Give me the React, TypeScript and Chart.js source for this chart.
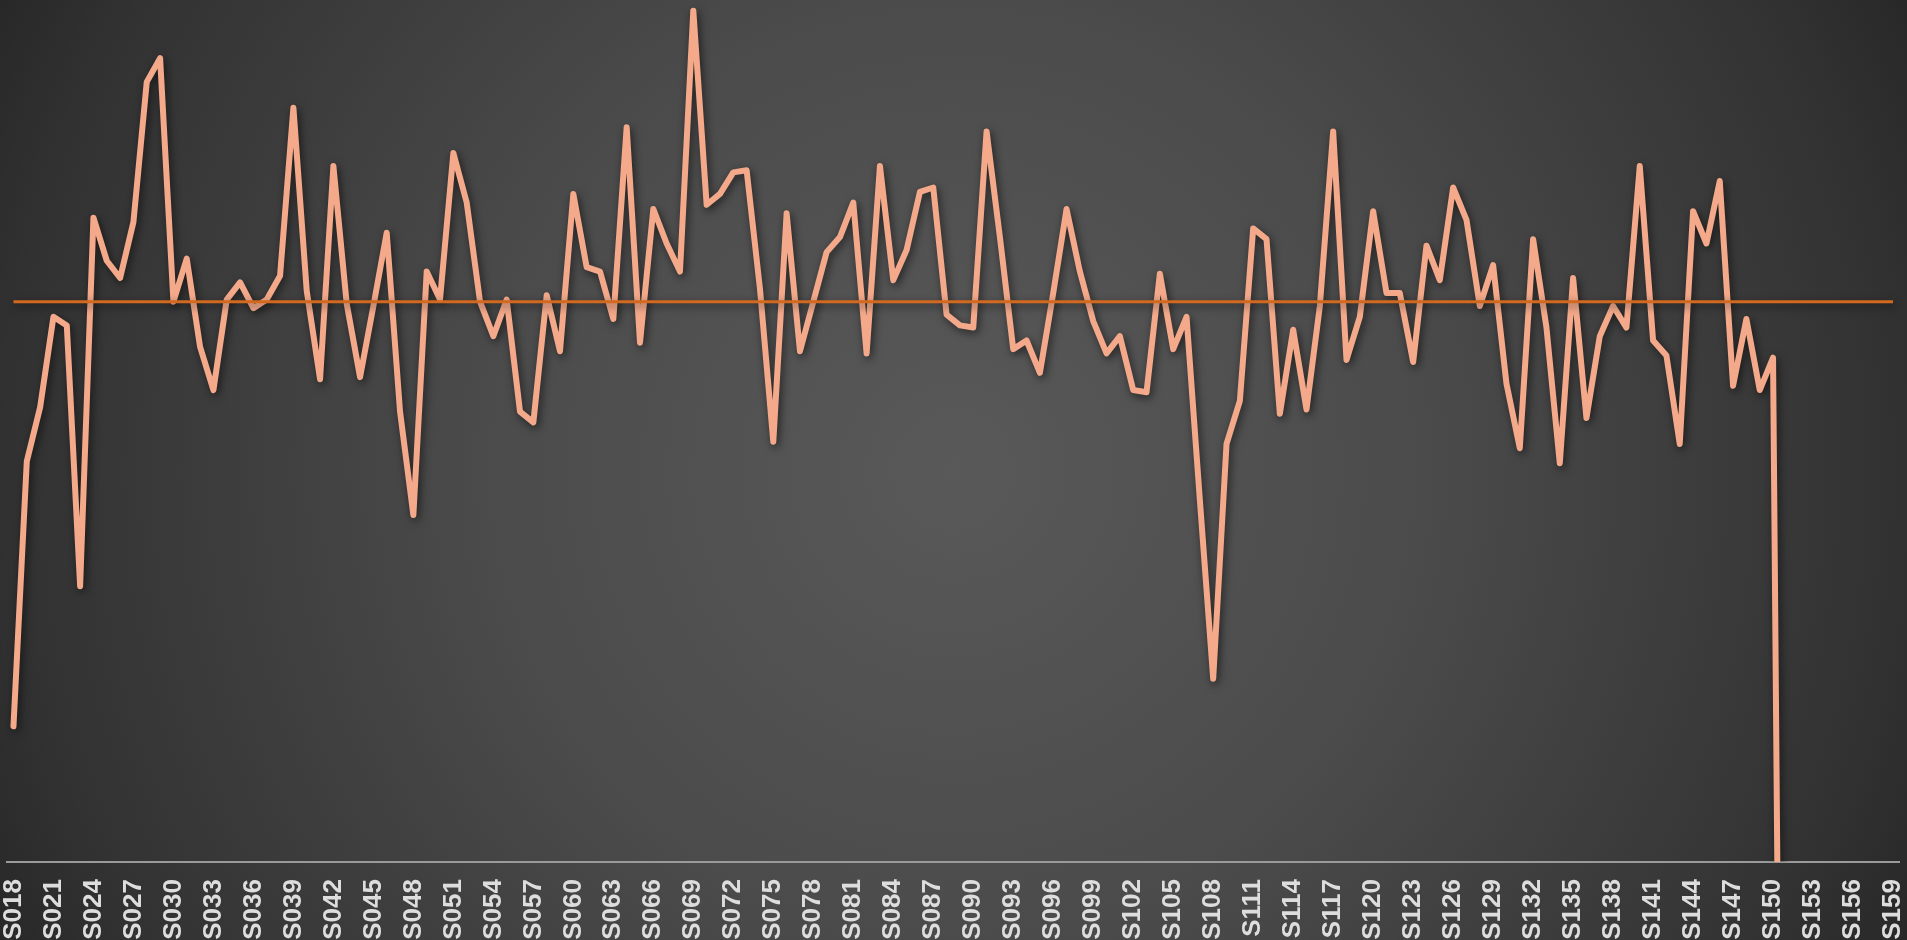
import React, { useEffect, useRef } from "react";
import { Chart, registerables } from "chart.js";

Chart.register(...registerables);

const sessionLabels = [
  "S018", "S019", "S020", "S021", "S022", "S023", "S024", "S025", "S026", "S027",
  "S028", "S029", "S030", "S031", "S032", "S033", "S034", "S035", "S036", "S037",
  "S038", "S039", "S040", "S041", "S042", "S043", "S044", "S045", "S046", "S047",
  "S048", "S049", "S050", "S051", "S052", "S053", "S054", "S055", "S056", "S057",
  "S058", "S059", "S060", "S061", "S062", "S063", "S064", "S065", "S066", "S067",
  "S068", "S069", "S070", "S071", "S072", "S073", "S074", "S075", "S076", "S077",
  "S078", "S079", "S080", "S081", "S082", "S083", "S084", "S085", "S086", "S087",
  "S088", "S089", "S090", "S091", "S092", "S093", "S094", "S095", "S096", "S097",
  "S098", "S099", "S100", "S101", "S102", "S103", "S104", "S105", "S106", "S107",
  "S108", "S109", "S110", "S111", "S112", "S113", "S114", "S115", "S116", "S117",
  "S118", "S119", "S120", "S121", "S122", "S123", "S124", "S125", "S126", "S127",
  "S128", "S129", "S130", "S131", "S132", "S133", "S134", "S135", "S136", "S137",
  "S138", "S139", "S140", "S141", "S142", "S143", "S144", "S145", "S146", "S147",
  "S148", "S149", "S150", "S151", "S152", "S153", "S154", "S155", "S156", "S157",
  "S158", "S159",
];

const scoreValues = [
  56.3, 68.6, 71.1, 75.3, 74.9, 62.8, 79.9, 77.9, 77.1, 79.7,
  86.2, 87.3, 76.0, 78.0, 73.9, 71.9, 76.1, 76.9, 75.7, 76.1,
  77.2, 85.0, 76.5, 72.4, 82.3, 75.9, 72.5, 75.8, 79.2, 70.9,
  66.1, 77.4, 76.1, 82.9, 80.6, 76.0, 74.4, 76.1, 70.9, 70.4,
  76.3, 73.7, 81.0, 77.6, 77.4, 75.2, 84.1, 74.1, 80.3, 78.7,
  77.4, 89.5, 80.5, 81.0, 82.0, 82.1, 76.6, 69.5, 80.1, 73.7,
  76.0, 78.3, 79.0, 80.6, 73.6, 82.3, 77.0, 78.4, 81.1, 81.3,
  75.4, 74.9, 74.8, 83.9, 79.0, 73.8, 74.2, 72.7, 76.4, 80.3,
  77.4, 75.1, 73.6, 74.4, 71.9, 71.8, 77.3, 73.8, 75.3, 66.8,
  58.5, 69.4, 71.4, 79.4, 78.9, 70.8, 74.7, 71.0, 75.8, 83.9,
  73.3, 75.3, 80.2, 76.4, 76.4, 73.2, 78.6, 77.0, 81.3, 79.8,
  75.8, 77.7, 72.2, 69.2, 78.9, 74.8, 68.5, 77.1, 70.6, 74.4,
  75.8, 74.8, 82.3, 74.2, 73.5, 69.4, 80.2, 78.7, 81.6, 72.1,
  75.2, 71.9, 73.4, 0, 0, 0, 0, 0, 0, 0,
  0, 0,
];

const averageValue = 76.0;
const yMin = 50;
const yMax = 90;
const tickEvery = 3;

const shadowPlugin = {
  id: "lineShadow",
  beforeDatasetsDraw(chart: any) {
    const ctx = chart.ctx;
    ctx.save();
    ctx.shadowColor = "rgba(0,0,0,0.6)";
    ctx.shadowBlur = 8;
    ctx.shadowOffsetX = 2;
    ctx.shadowOffsetY = 3;
  },
  afterDatasetsDraw(chart: any) {
    chart.ctx.restore();
  },
};

export default function App() {
  const canvasRef = useRef<HTMLCanvasElement | null>(null);

  useEffect(() => {
    if (!canvasRef.current) return;
    const averageValues = sessionLabels.map(() => averageValue);
    const chart = new Chart(canvasRef.current, {
      type: "line",
      data: {
        labels: sessionLabels,
        datasets: [
          {
            label: "Average",
            data: averageValues,
            borderColor: "#d2691e",
            borderWidth: 3,
            pointRadius: 0,
            tension: 0,
            order: 0,
          },
          {
            label: "Score",
            data: scoreValues,
            borderColor: "#f4a98a",
            borderWidth: 6,
            pointRadius: 0,
            tension: 0,
            borderJoinStyle: "round",
            borderCapStyle: "round",
            order: 1,
          },
        ],
      },
      options: {
        responsive: false,
        animation: false,
        layout: { padding: { left: 6.8, right: 7.3, top: 0, bottom: 0 } },
        plugins: {
          legend: { display: false },
          tooltip: { enabled: false },
        },
        scales: {
          x: {
            offset: true,
            grid: { display: false, drawTicks: false },
            border: { display: true, color: "#9a9a9a", width: 2 },
            ticks: {
              autoSkip: false,
              minRotation: 90,
              maxRotation: 90,
              padding: 17,
              color: "#dddddd",
              font: { family: "'Liberation Sans', Arial, sans-serif", size: 26, weight: "bold" },
              callback: (_v: any, index: number) =>
                index % tickEvery === 0 ? sessionLabels[index] : "",
            },
            afterFit: (scale: any) => {
              scale.height = 98;
              scale.paddingLeft = 0;
              scale.paddingRight = 0;
            },
          },
          y: {
            display: false,
            min: yMin,
            max: yMax,
          },
        },
      },
      plugins: [shadowPlugin],
    } as any);
    return () => chart.destroy();
  }, []);

  return (
    <div
      style={{
        position: "fixed",
        left: 0,
        top: 0,
        width: "100vw",
        height: "100vh",
        overflow: "hidden",
        background:
          "radial-gradient(circle at 50% 50%, #595959 0%, #4b4b4b 44%, #323232 88%, #282828 100%)",
      }}
    >
      <canvas
        ref={canvasRef}
        width={1907}
        height={960}
        style={{ position: "absolute", left: 0, top: 0, display: "block" }}
      />
    </div>
  );
}
